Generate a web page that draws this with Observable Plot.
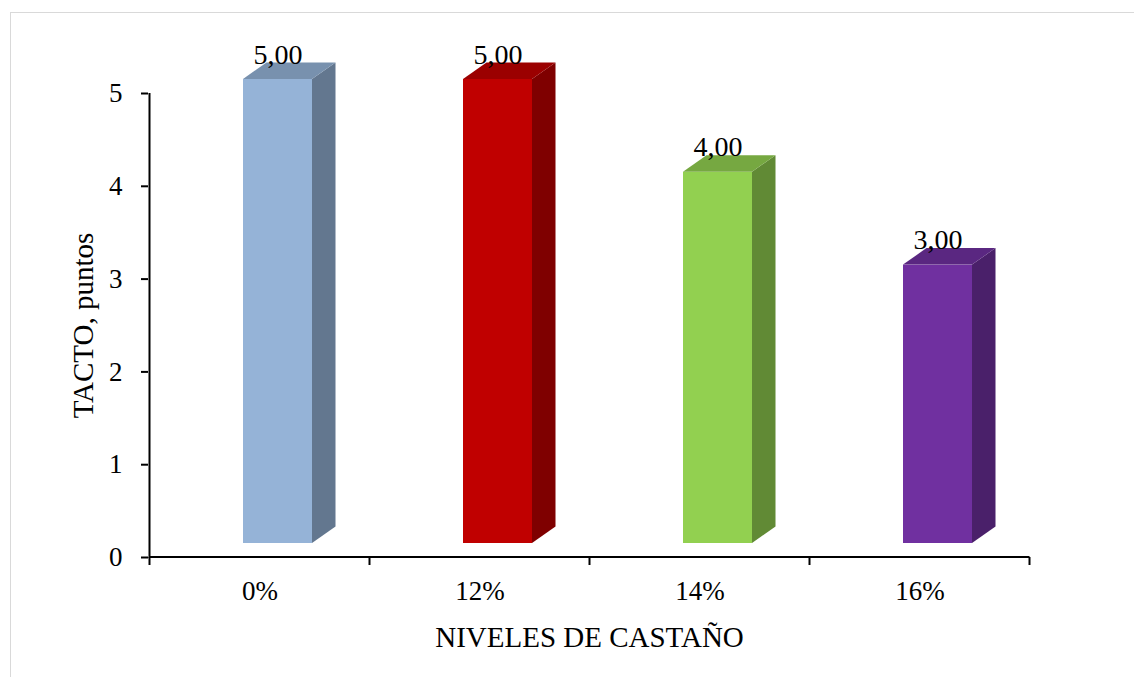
<!DOCTYPE html>
<html><head><meta charset="utf-8">
<script src="https://cdn.jsdelivr.net/npm/d3@7"></script>
<script src="https://cdn.jsdelivr.net/npm/@observablehq/plot@0.6"></script>
<style>
html,body{margin:0;padding:0;background:#fff;}
#wrap{position:relative;width:1134px;height:677px;overflow:hidden;}
#chart{position:absolute;left:0;top:0;}
#border{position:absolute;left:10px;top:12px;right:-5px;bottom:-5px;border-left:1.5px solid #d9d9d9;border-top:1.5px solid #d9d9d9;pointer-events:none;}
#chart svg g[aria-label="y-axis tick"] path{stroke-width:2;}
#chart svg g[aria-label="x-axis label"] text, #chart svg g[aria-label="y-axis label"] text{font-size:29px;}
</style></head><body>
<div id="wrap"><div id="chart"></div><div id="border"></div></div>
<script>
// ---- data ----
const categories = ["0%", "12%", "14%", "16%"];
const values = [5, 5, 4, 3];
const yTicks = [0, 1, 2, 3, 4, 5];
const palette = ["#95B3D7", "#C00000", "#92D050", "#7030A0"];
const xTitle = "NIVELES DE CASTAÑO";
const yTitle = "TACTO, puntos";

const data = categories.map((c, i) => ({cat: c, value: values[i]}));
const fmt = v => d3.format(".2f")(v).replace(".", ",");

// 3D look (pixel offsets)
const SHIFT_X = 18, SHIFT_Y = -14, DEPTH_X = 23.5, DEPTH_Y = 16.5;

function bandInfo(x) {
  const bw = typeof x.bandwidth === "function" ? x.bandwidth() : 69;
  const centers = categories.map(c => x(c) + bw / 2);
  const step = centers[1] - centers[0];
  return {bw, centers, step};
}

function depthFaces(index, scales) {
  const {x, y, color} = scales;
  const {bw} = bandInfo(x);
  const g = d3.create("svg:g").attr("aria-label", "bar-depth");
  for (const d of data) {
    const xl = x(d.cat) + SHIFT_X, xr = xl + bw;
    const yt = y(d.value) + SHIFT_Y, yb = y(0) + SHIFT_Y;
    const c = d3.color(color(d.cat));
    g.append("path")
      .attr("d", `M${xr},${yb}L${xr + DEPTH_X},${yb - DEPTH_Y}V${yt - DEPTH_Y}L${xr},${yt}Z`)
      .attr("fill", c.darker(1.15).formatHex());
    g.append("path")
      .attr("d", `M${xl},${yt}L${xl + DEPTH_X},${yt - DEPTH_Y}H${xr + DEPTH_X}L${xr},${yt}Z`)
      .attr("fill", c.darker(0.6).formatHex());
  }
  return g.node();
}

function axisLines(index, scales) {
  const {x, y} = scales;
  const {centers, step} = bandInfo(x);
  const bounds = d3.range(categories.length + 1).map(k => centers[0] - step / 2 + k * step);
  const y0 = y(0), yTop = y(d3.max(yTicks));
  const g = d3.create("svg:g").attr("aria-label", "axis-lines")
    .attr("stroke", "#000").attr("stroke-width", 2).attr("fill", "none");
  g.append("path").attr("d", `M${bounds[0]},${yTop}V${y0}H${bounds[bounds.length - 1]}`);
  for (const b of bounds) g.append("path").attr("d", `M${b},${y0}V${y0 + 8}`);
  return g.node();
}

const chart = Plot.plot({
  width: 1134,
  height: 677,
  marginLeft: 148,
  marginRight: 104,
  marginTop: 93,
  marginBottom: 120,
  style: {
    fontFamily: '"Liberation Serif", "Times New Roman", serif',
    fontSize: "27px",
    color: "#000",
    background: "transparent",
    overflow: "visible"
  },
  x: {
    domain: categories,
    paddingInner: 0.687,
    paddingOuter: 0.3435,
    tickSize: 0,
    tickPadding: 23,
    label: xTitle,
    labelAnchor: "center",
    labelOffset: 89,
    labelArrow: false
  },
  y: {
    domain: [0, 5],
    ticks: yTicks,
    tickSize: 7,
    tickPadding: 19,
    tickFormat: d => String(d),
    label: yTitle,
    labelAnchor: "center",
    labelOffset: 76,
    labelArrow: false
  },
  color: {domain: categories, range: palette},
  marks: [
    Plot.barY(data, {x: "cat", y: "value", fill: "cat", dx: SHIFT_X, dy: SHIFT_Y}),
    depthFaces,
    axisLines,
    Plot.text(data, {
      x: "cat", y: "value", text: d => fmt(d.value),
      dx: SHIFT_X, dy: -30, lineAnchor: "bottom", fontSize: 28, fill: "#000"
    })
  ]
});
document.getElementById("chart").appendChild(chart);
</script>
</body></html>
